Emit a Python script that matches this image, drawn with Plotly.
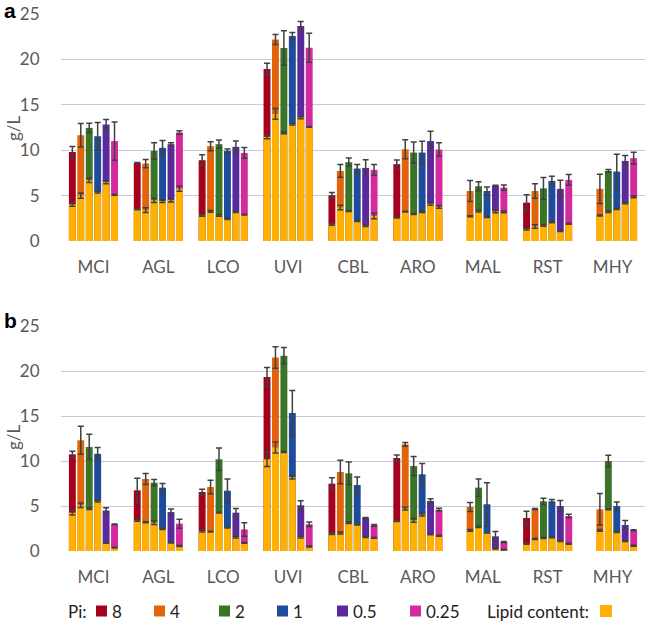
import plotly.graph_objects as go

categories = ["MCI", "AGL", "LCO", "UVI", "CBL", "ARO", "MAL", "RST", "MHY"]
pi_labels = ["8", "4", "2", "1", "0.5", "0.25"]
pi_colors = ["#A5001E", "#E2640A", "#3A7428", "#1E4C9B", "#5A2A9C", "#D42A9E"]
lipid_color = "#FFB000"
y_ticks = [0, 5, 10, 15, 20, 25]

N = None
# ---- panel a ----
a_total = [
    [9.8, 8.6, 8.9, 18.93, 5.04, 8.46, N, 4.23, N],
    [11.65, 8.53, 10.44, 22.2, 7.72, 10.1, 5.51, 5.51, 5.74],
    [12.46, 9.93, 10.66, 21.25, 8.68, 9.74, 6.03, 5.8, 7.72],
    [11.54, 10.26, 9.93, 22.57, 7.98, 9.74, 5.51, 6.62, 7.65],
    [12.83, 10.66, 10.37, 23.68, 8.05, 11.0, 6.1, 5.74, 8.82],
    [11.0, 11.95, 9.7, 21.29, 7.83, 10.07, 5.88, 6.73, 9.12],
]
a_total_err = [
    [0.6, 0.05, 0.6, 0.65, 0.3, 0.45, N, 0.85, N],
    [1.3, 0.45, 0.5, 0.55, 0.7, 1.05, 1.15, 0.8, 1.6],
    [0.5, 0.9, 0.45, 1.9, 0.45, 1.15, 0.5, 1.2, 0.15],
    [1.5, 0.8, 0.2, 0.4, 0.45, 1.25, 0.45, 0.5, 1.9],
    [0.55, 0.15, 0.65, 0.5, 0.9, 1.1, 0.05, 0.95, 0.6],
    [2.1, 0.2, 0.6, 1.6, 0.6, 0.75, 0.3, 0.6, 0.65],
]
a_lipid = [
    [4.04, 3.5, 2.83, 11.47, 1.84, 2.57, N, 1.32, N],
    [5.0, 3.4, 3.27, 14.0, 3.68, 3.24, 2.72, 1.6, 2.8],
    [6.7, 4.49, 2.83, 11.9, 3.3, 2.98, 3.3, 1.73, 3.24],
    [5.4, 4.4, 2.43, 12.87, 2.2, 3.2, 2.65, 2.06, 3.53],
    [6.5, 4.5, 3.2, 13.6, 1.7, 4.1, 3.27, 1.1, 4.2],
    [5.1, 5.77, 2.9, 12.57, 2.76, 3.75, 3.2, 1.9, 4.85],
]
a_lipid_err = [
    [0.2, 0.05, 0.1, 0.2, 0.1, 0.05, N, 0.1, N],
    [0.3, 0.25, 0.1, 0.6, 0.25, 0.05, 0.05, 0.2, 0.05],
    [0.25, 0.25, 0.1, 0.1, 0.05, 0.05, 0.1, 0.1, 0.1],
    [0.1, 0.15, 0.05, 0.1, 0.05, 0.05, 0.05, 0.05, 0.05],
    [0.2, 0.2, 0.05, 0.15, 0.1, 0.15, 0.15, 0.05, 0.1],
    [0.05, 0.3, 0.05, 0.05, 0.3, 0.15, 0.1, 0.05, 0.1],
]
# ---- panel b ----
b_total = [
    [10.74, 6.74, 6.56, 19.33, 7.48, 10.33, N, 3.67, N],
    [12.3, 8.0, 7.11, 21.5, 8.78, 11.85, 4.89, 4.67, 4.63],
    [11.56, 7.6, 10.19, 21.7, 8.63, 9.44, 7.04, 5.52, 10.0],
    [10.8, 7.04, 6.7, 15.33, 7.33, 8.52, 5.19, 5.52, 5.0],
    [4.5, 4.33, 4.26, 5.08, 3.67, 5.56, 1.63, 5.0, 2.89],
    [2.96, 3.04, 2.4, 2.97, 2.85, 4.6, 1.0, 3.89, 2.3],
]
b_total_err = [
    [0.35, 1.35, 0.3, 1.05, 0.65, 0.35, N, 0.75, N],
    [1.55, 0.6, 0.75, 1.2, 1.3, 0.2, 0.5, 0.05, 1.75],
    [1.4, 0.35, 1.25, 0.9, 1.25, 1.05, 0.95, 0.35, 0.65],
    [0.7, 0.45, 1.3, 2.5, 0.9, 1.2, 2.4, 0.2, 0.45],
    [0.3, 0.35, 0.45, 0.5, 0.05, 0.25, 0.55, 0.6, 0.5],
    [0.05, 0.5, 0.75, 0.25, 0.1, 0.15, 0.05, 0.2, 0.05],
]
b_lipid = [
    [4.26, 3.4, 2.22, 10.2, 1.93, 3.33, N, 0.81, N],
    [5.07, 3.2, 2.15, 11.5, 2.0, 4.7, 2.3, 1.33, 2.3],
    [4.7, 3.15, 4.26, 11.0, 3.15, 3.4, 2.67, 1.44, 4.63],
    [5.55, 2.44, 2.6, 8.2, 2.93, 4.04, 2.04, 1.52, 2.11],
    [0.9, 0.93, 1.55, 1.55, 1.55, 1.85, 0.26, 1.11, 1.11],
    [0.37, 0.56, 0.9, 0.5, 1.48, 1.7, 0.15, 0.81, 0.59],
]
b_lipid_err = [
    [0.25, 0.1, 0.1, 0.8, 0.1, 0.05, N, 0.05, N],
    [0.25, 0.05, 0.05, 0.6, 0.1, 0.15, 0.1, 0.05, 0.1],
    [0.1, 0.2, 0.05, 0.05, 0.1, 0.2, 0.05, 0.05, 0.05],
    [0.1, 0.05, 0.05, 0.2, 0.05, 0.15, 0.05, 0.05, 0.05],
    [0.05, 0.05, 0.1, 0.1, 0.05, 0.05, 0.05, 0.05, 0.05],
    [0.05, 0.05, 0.05, 0.05, 0.05, 0.05, 0.05, 0.05, 0.05],
]

FONT = "Lato"
TXT = "#595959"
ERR = "#404040"
W, H = 649, 623
ML, MR, MT, MB = 61, 4, 14, 72
PH = H - MT - MB

fig = go.Figure()

panels = [
    ("x", "y", a_total, a_total_err, a_lipid, a_lipid_err),
    ("x2", "y2", b_total, b_total_err, b_lipid, b_lipid_err),
]
for xa, ya, tot, tot_e, lip, lip_e in panels:
    for i, lab in enumerate(pi_labels):
        fig.add_trace(go.Bar(
            x=categories, y=tot[i], xaxis=xa, yaxis=ya,
            offsetgroup=str(i), marker=dict(color=pi_colors[i], line=dict(width=0)),
            error_y=dict(type="data", array=tot_e[i], color=ERR, thickness=1.5, width=3),
            showlegend=False, name=lab,
        ))
        fig.add_trace(go.Bar(
            x=categories, y=lip[i], xaxis=xa, yaxis=ya,
            offsetgroup=str(i), marker=dict(color=lipid_color, line=dict(width=0)),
            error_y=dict(type="data", array=lip_e[i], color=ERR, thickness=1.5, width=3),
            showlegend=False, name="Lipid content",
        ))

def py2paper(py):
    return (H - MB - py) / PH

def px2paper(px):
    return (px - ML) / (W - ML - MR)

a_dom = [py2paper(241), 1.0]
b_dom = [0.0, py2paper(326)]

xcommon = dict(type="category", showgrid=False, showline=False, zeroline=False,
               ticks="outside", ticklen=11, tickcolor="rgba(0,0,0,0)",
               tickfont=dict(family=FONT, size=17, color=TXT), range=[-0.5, 8.5])
ycommon = dict(range=[0, 25], tickvals=y_ticks, showgrid=True, gridcolor="#C9CAD9",
               gridwidth=1.3, zeroline=False, showline=False,
               ticks="outside", ticklen=17, tickcolor="rgba(0,0,0,0)",
               tickfont=dict(family=FONT, size=17, color=TXT))

fig.update_layout(
    width=W, height=H,
    margin=dict(l=ML, r=MR, t=MT, b=MB),
    paper_bgcolor="white", plot_bgcolor="white",
    barmode="group", bargap=0.22, bargroupgap=0.18,
    showlegend=False,
    xaxis=dict(**xcommon, anchor="y"),
    yaxis=dict(**ycommon, domain=a_dom, anchor="x"),
    xaxis2=dict(**xcommon, anchor="y2"),
    yaxis2=dict(**ycommon, domain=b_dom, anchor="x2"),
)

ann = []
# panel letters
ann.append(dict(text="<b>a</b>", x=px2paper(2), y=py2paper(10), xref="paper", yref="paper",
                xanchor="left", yanchor="middle", showarrow=False,
                font=dict(family="Liberation Sans", size=21, color="black")))
ann.append(dict(text="<b>b</b>", x=px2paper(2), y=py2paper(320), xref="paper", yref="paper",
                xanchor="left", yanchor="middle", showarrow=False,
                font=dict(family="Liberation Sans", size=21, color="black")))
# y axis titles
for yc in (128, 437):
    ann.append(dict(text="g/L", x=px2paper(13), y=py2paper(yc), xref="paper", yref="paper",
                    xanchor="center", yanchor="middle", textangle=-90, showarrow=False,
                    font=dict(family=FONT, size=17, color=TXT)))

# legend row
LEG_Y = 611
sq = 11
shapes = []
ann.append(dict(text="Pi:", x=px2paper(66), y=py2paper(LEG_Y), xref="paper", yref="paper",
                xanchor="left", yanchor="middle", showarrow=False,
                font=dict(family=FONT, size=17, color="#222222")))
leg_x = [96, 154, 219, 277, 337, 410]
for i, lab in enumerate(pi_labels):
    x0 = leg_x[i]
    shapes.append(dict(type="rect", xref="paper", yref="paper",
                       x0=px2paper(x0), x1=px2paper(x0 + sq),
                       y0=py2paper(LEG_Y + sq / 2), y1=py2paper(LEG_Y - sq / 2),
                       fillcolor=pi_colors[i], line=dict(width=0)))
    ann.append(dict(text=lab, x=px2paper(x0 + sq + 3), y=py2paper(LEG_Y), xref="paper", yref="paper",
                    xanchor="left", yanchor="middle", showarrow=False,
                    font=dict(family=FONT, size=17, color="#222222")))
ann.append(dict(text="Lipid content:", x=px2paper(485), y=py2paper(LEG_Y), xref="paper", yref="paper",
                xanchor="left", yanchor="middle", showarrow=False,
                font=dict(family=FONT, size=17, color="#222222")))
shapes.append(dict(type="rect", xref="paper", yref="paper",
                   x0=px2paper(600), x1=px2paper(612),
                   y0=py2paper(LEG_Y + 6), y1=py2paper(LEG_Y - 6),
                   fillcolor=lipid_color, line=dict(width=0)))

fig.update_layout(annotations=ann, shapes=shapes)
fig.write_html("out.html", config={"displayModeBar": False},
               post_script="document.body.style.margin='0';document.body.style.overflow='hidden';")
